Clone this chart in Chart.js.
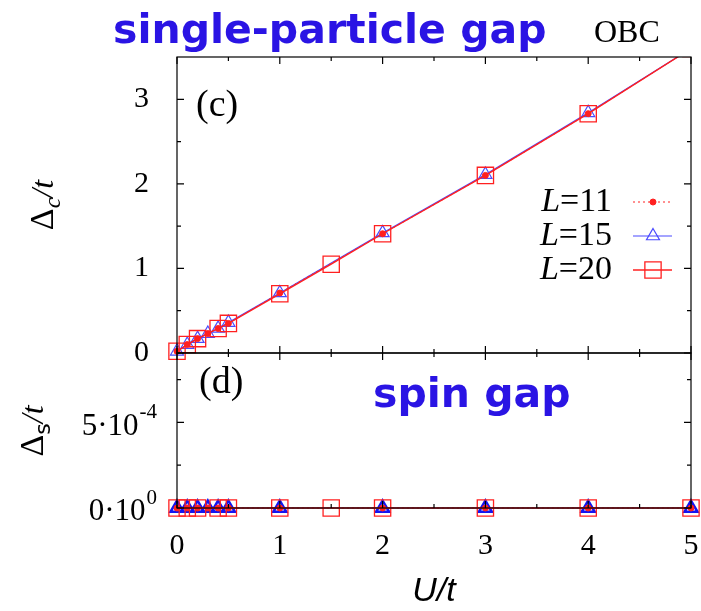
<!DOCTYPE html>
<html>
<head>
<meta charset="utf-8">
<script src="https://cdn.jsdelivr.net/npm/chart.js@4/dist/chart.umd.min.js"></script>
<style>
    html, body { margin: 0; padding: 0; background: #fff; }
    #wrap { position: relative; width: 701px; height: 611px; overflow: hidden; }
    canvas { position: absolute; left: 0; }
    #top-chart { top: 0; }
    #bottom-chart { top: 330px; }
</style>
</head>
<body>
<div id="wrap">
    <canvas id="top-chart" width="701" height="380"></canvas>
    <canvas id="bottom-chart" width="701" height="281"></canvas>
</div>
<script>
// Datos
const uL11 = [0, 0.1, 0.2, 0.3, 0.4, 0.5, 1, 2, 3, 4, 5];
const uL15 = [0, 0.1, 0.2, 0.3, 0.4, 0.5, 1, 2, 3, 4, 5];
const uL20 = [0, 0.1, 0.2, 0.4, 0.5, 1, 1.5, 2, 3, 4, 5];

// Gap de una partícula (panel c)
const gapL11 = [0.02, 0.10, 0.17, 0.23, 0.29, 0.35, 0.71, 1.41, 2.10, 2.83, 3.60];
const gapL15 = [0.02, 0.10, 0.17, 0.23, 0.29, 0.36, 0.71, 1.42, 2.11, 2.84, 3.60];
const gapL20 = [0.02, 0.10, 0.17, 0.29, 0.35, 0.70, 1.05, 1.41, 2.10, 2.83, 3.60];

// Gap de espín (panel d)
const spinL11 = [0, 0, 0, 0, 0, 0, 0, 0, 0, 0, 0];
const spinL15 = [0, 0, 0, 0, 0, 0, 0, 0, 0, 0, 0];
const spinL20 = [0, 0, 0, 0, 0, 0, 0, 0, 0, 0, 0];

// Ticks
const xTicks = [0, 1, 2, 3, 4, 5];
const xMinorTicks = [0.5, 1.5, 2.5, 3.5, 4.5];
const yTopTicks = [0, 1, 2, 3];
const yTopMinorTicks = [0.5, 1.5, 2.5];
const yBottomTicks = [0, 5e-4];
const yBottomMinorTicks = [2.5e-4, 7.5e-4];
const yBottomBase = ['0\u00b710', '5\u00b710'];
const yBottomExp = ['0', '-4'];
const seriesNames = ['L=11', 'L=15', 'L=20'];

const SERIF = "'Liberation Serif', 'Times New Roman', serif";
const BLUE_TEXT = '#2a14e4';
const RED = '#ff2020';
const BLUE = '#4a4aff';

const toPoints = (xs, ys) => xs.map((x, i) => ({ x: x, y: ys[i] }));

// Sin padding extra por las etiquetas: el área la fija layout.padding
const noScalePadding = s => {
    s.paddingTop = 0; s.paddingBottom = 0; s.paddingLeft = 0; s.paddingRight = 0;
};

/**
 * Marco con ticks hacia dentro en los cuatro lados
 */
function drawFrame(chart, yMajor, yMinor) {
    const ctx = chart.ctx;
    const a = chart.chartArea;
    const xs = chart.scales.x;
    const ys = chart.scales.y;
    ctx.save();
    ctx.strokeStyle = '#000';
    ctx.lineWidth = 1.2;
    ctx.strokeRect(a.left, a.top, a.right - a.left, a.bottom - a.top);
    ctx.beginPath();
    const tickX = (v, len) => {
        const px = xs.getPixelForValue(v);
        ctx.moveTo(px, a.bottom); ctx.lineTo(px, a.bottom - len);
        ctx.moveTo(px, a.top); ctx.lineTo(px, a.top + len);
    };
    const tickY = (v, len) => {
        const py = ys.getPixelForValue(v);
        ctx.moveTo(a.left, py); ctx.lineTo(a.left + len, py);
        ctx.moveTo(a.right, py); ctx.lineTo(a.right - len, py);
    };
    xTicks.forEach(v => tickX(v, 7));
    xMinorTicks.forEach(v => tickX(v, 4));
    yMajor.forEach(v => tickY(v, 7));
    yMinor.forEach(v => tickY(v, 4));
    ctx.stroke();
    ctx.restore();
}

/**
 * Texto rotado tipo "Δc/t" con subíndice
 */
function drawRotatedTitle(ctx, cx, cy, sub, subFont) {
    const parts = [
        { t: '\u0394', font: '34px ' + SERIF, dy: 0 },
        { t: sub, font: subFont, dy: 7 },
        { t: '/t', font: 'italic 32px ' + SERIF, dy: 0 }
    ];
    ctx.save();
    ctx.translate(cx, cy);
    ctx.rotate(-Math.PI / 2);
    ctx.fillStyle = '#000';
    ctx.textBaseline = 'alphabetic';
    ctx.textAlign = 'left';
    let total = 0;
    parts.forEach(p => { ctx.font = p.font; p.w = ctx.measureText(p.t).width; total += p.w; });
    let x = -total / 2;
    parts.forEach(p => { ctx.font = p.font; ctx.fillText(p.t, x, p.dy); x += p.w; });
    ctx.restore();
}

const topDecor = {
    id: 'topDecor',
    afterDraw(chart) {
        const ctx = chart.ctx;
        drawFrame(chart, yTopTicks, yTopMinorTicks);

        ctx.save();
        ctx.textAlign = 'left';
        ctx.textBaseline = 'alphabetic';
        ctx.fillStyle = BLUE_TEXT;
        ctx.font = "bold 41px 'DejaVu Sans', sans-serif";
        ctx.fillText('single-particle gap', 113, 43);

        ctx.fillStyle = '#000';
        ctx.font = '32px ' + SERIF;
        ctx.fillText('OBC', 594, 42);

        ctx.textBaseline = 'middle';
        ctx.font = '38px ' + SERIF;
        ctx.fillText('(c)', 196, 106);

        // Leyenda
        const rows = [202, 236, 270];
        chart.data.datasets.forEach((ds, i) => {
            const y = rows[i];
            const rest = seriesNames[i].slice(1);
            ctx.fillStyle = '#000';
            ctx.textAlign = 'right';
            ctx.font = '34px ' + SERIF;
            const wRest = ctx.measureText(rest).width;
            ctx.fillText(rest, 612, y);
            ctx.font = 'italic 34px ' + SERIF;
            ctx.fillText('L', 612 - wRest, y);

            ctx.strokeStyle = ds.borderColor;
            ctx.lineWidth = ds.borderWidth;
            ctx.setLineDash(ds.borderDash || []);
            ctx.beginPath();
            ctx.moveTo(633, y);
            ctx.lineTo(672, y);
            ctx.stroke();
            ctx.setLineDash([]);
            ctx.fillStyle = ds.pointBackgroundColor;
            ctx.strokeStyle = ds.pointBorderColor;
            ctx.lineWidth = ds.pointBorderWidth;
            Chart.helpers.drawPoint(ctx, {
                pointStyle: ds.pointStyle,
                radius: ds.pointRadius,
                borderWidth: ds.pointBorderWidth,
                rotation: 0
            }, 653, y);
        });
        ctx.restore();

        drawRotatedTitle(ctx, 53, 205, 'c', 'italic 24px ' + SERIF);
    }
};

const bottomDecor = {
    id: 'bottomDecor',
    afterDraw(chart) {
        const ctx = chart.ctx;
        const ys = chart.scales.y;
        drawFrame(chart, yBottomTicks, yBottomMinorTicks);

        ctx.save();
        ctx.fillStyle = '#000';
        ctx.textAlign = 'left';
        ctx.textBaseline = 'middle';
        ctx.font = '38px ' + SERIF;
        ctx.fillText('(d)', 199, 53);

        ctx.textBaseline = 'alphabetic';
        ctx.fillStyle = BLUE_TEXT;
        ctx.font = "bold 41px 'DejaVu Sans', sans-serif";
        ctx.fillText('spin gap', 373, 77);

        // Etiquetas del eje y con exponente
        ctx.fillStyle = '#000';
        ctx.textBaseline = 'middle';
        yBottomTicks.forEach((v, i) => {
            const py = ys.getPixelForValue(v);
            const right = 157;
            ctx.font = '21px ' + SERIF;
            const we = ctx.measureText(yBottomExp[i]).width;
            ctx.font = '31px ' + SERIF;
            const wb = ctx.measureText(yBottomBase[i]).width;
            ctx.fillText(yBottomBase[i], right - we - wb - 1, py + 4);
            ctx.font = '21px ' + SERIF;
            ctx.fillText(yBottomExp[i], right - we, py - 10);
        });

        // Título eje x
        ctx.textAlign = 'center';
        ctx.font = "italic 34px 'Liberation Sans', sans-serif";
        ctx.fillText('U/t', 434, 262);
        ctx.restore();

        drawRotatedTitle(ctx, 43, 101, 's', "22px 'DejaVu Sans', sans-serif");
    }
};

function makeDatasets(d11, d15, d20, bottom) {
    return [
        {
            label: seriesNames[0],
            data: toPoints(uL11, d11),
            order: 0,
            borderColor: RED,
            borderWidth: 1,
            borderDash: [2, 3],
            pointStyle: 'circle',
            pointRadius: 3,
            pointBorderWidth: 1,
            pointBackgroundColor: RED,
            pointBorderColor: RED
        },
        {
            label: seriesNames[1],
            data: toPoints(uL15, d15),
            order: 2,
            borderColor: BLUE,
            borderWidth: 1.2,
            pointStyle: 'triangle',
            pointRadius: 7.5,
            pointBorderWidth: bottom ? 2.5 : 1.2,
            pointBackgroundColor: 'rgba(0,0,0,0)',
            pointBorderColor: bottom ? '#1414f0' : BLUE
        },
        {
            label: seriesNames[2],
            data: toPoints(uL20, d20),
            order: 1,
            borderColor: RED,
            borderWidth: 1.4,
            pointStyle: 'rect',
            pointRadius: 11.5,
            pointBorderWidth: 1.3,
            pointBackgroundColor: 'rgba(0,0,0,0)',
            pointBorderColor: RED
        }
    ].map(ds => Object.assign(ds, {
        showLine: true,
        tension: 0,
        fill: false,
        clip: bottom ? false : { left: 20, right: 0, top: 0, bottom: 20 }
    }));
}

const commonOptions = {
    responsive: false,
    animation: false,
    events: [],
    plugins: { legend: { display: false }, tooltip: { enabled: false } }
};

new Chart(document.getElementById('top-chart'), {
    type: 'scatter',
    data: { datasets: makeDatasets(gapL11, gapL15, gapL20, false) },
    options: Object.assign({}, commonOptions, {
        layout: { autoPadding: false, padding: { top: 57, right: 10, bottom: 27, left: 0 } },
        scales: {
            x: { type: 'linear', min: 0, max: 5, display: false },
            y: {
                type: 'linear', min: 0, max: 3.5,
                afterBuildTicks: s => { s.ticks = yTopTicks.map(v => ({ value: v })); },
                afterFit: s => { s.width = 177; noScalePadding(s); },
                grid: { display: false },
                border: { display: false },
                ticks: { color: '#000', padding: 20, font: { family: SERIF, size: 30 } }
            }
        }
    }),
    plugins: [topDecor]
});

new Chart(document.getElementById('bottom-chart'), {
    type: 'scatter',
    data: { datasets: makeDatasets(spinL11, spinL15, spinL20, true) },
    options: Object.assign({}, commonOptions, {
        layout: { autoPadding: false, padding: { top: 23, right: 10, bottom: 0, left: 0 } },
        scales: {
            x: {
                type: 'linear', min: 0, max: 5,
                afterBuildTicks: s => { s.ticks = xTicks.map(v => ({ value: v })); },
                afterFit: s => { s.height = 103; noScalePadding(s); },
                grid: { display: false },
                border: { display: false },
                ticks: { color: '#000', padding: 12, maxRotation: 0, font: { family: SERIF, size: 30 } }
            },
            y: {
                type: 'linear', min: 0, max: 9.05e-4,
                afterFit: s => { s.width = 177; noScalePadding(s); },
                grid: { display: false },
                border: { display: false },
                ticks: { display: false }
            }
        }
    }),
    plugins: [bottomDecor]
});
</script>
</body>
</html>
